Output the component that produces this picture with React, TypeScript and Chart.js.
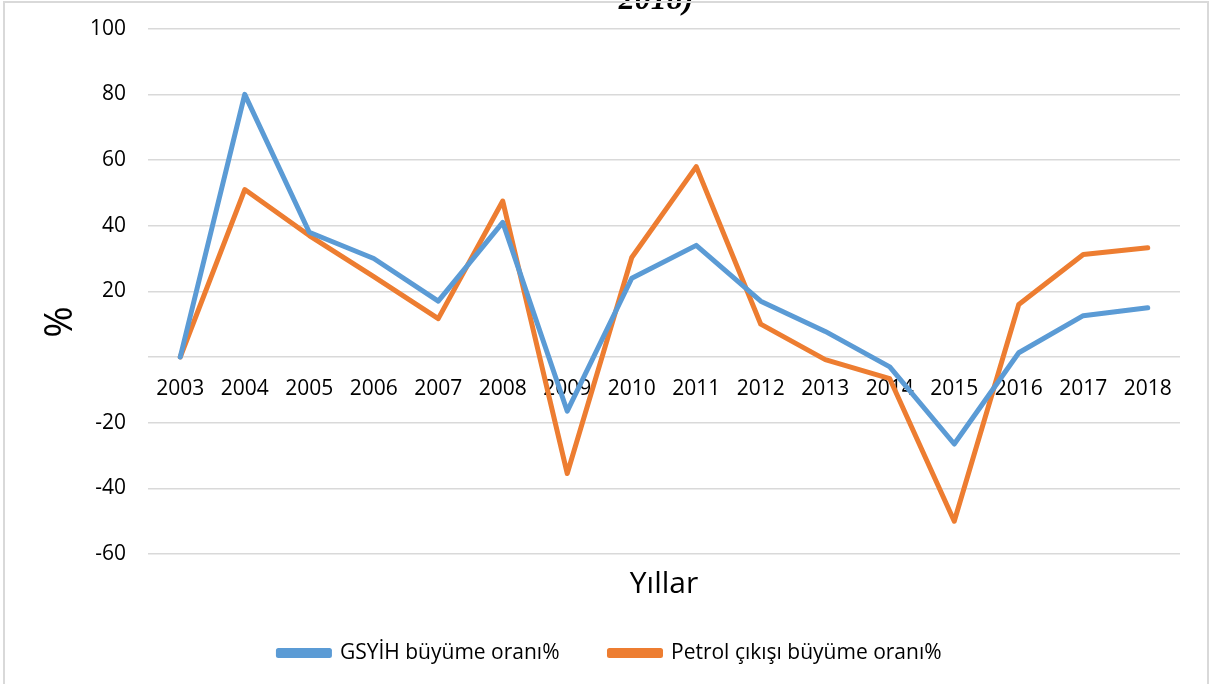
import React, { useEffect, useRef } from "react";
import { Chart, registerables } from "chart.js";

Chart.register(...registerables);

const years: string[] = [
  "2003", "2004", "2005", "2006", "2007", "2008", "2009", "2010",
  "2011", "2012", "2013", "2014", "2015", "2016", "2017", "2018",
];
const gdpGrowth: number[] = [0, 80, 38, 30, 17, 41, -16.5, 24, 34, 17, 7.8, -3, -26.5, 1.3, 12.6, 15];
const oilGrowth: number[] = [0, 51, 37, 24.5, 11.7, 47.5, -35.5, 30.3, 58, 10, -0.8, -6.6, -50, 16, 31.2, 33.3];
const seriesNames: string[] = ["GSYİH büyüme oranı%", "Petrol çıkışı büyüme oranı%"];
const yTicks: number[] = [-60, -40, -20, 0, 20, 40, 60, 80, 100];
const xAxisTitle = "Yıllar";
const yAxisTitle = "%";
const topTitleFragment = "2018)";

const FONT = "'Open Sans', 'Noto Sans', sans-serif";

const decorations = {
  id: "decorations",
  beforeDraw(chart: any) {
    const ctx = chart.ctx;
    ctx.save();
    ctx.fillStyle = "#ffffff";
    ctx.fillRect(0, 0, chart.width, chart.height);
    ctx.restore();
  },
  afterDraw(chart: any) {
    const ctx = chart.ctx;
    ctx.save();
    ctx.fillStyle = "#000";
    ctx.font = "italic bold 32px 'Liberation Serif', 'DejaVu Serif', serif";
    ctx.textAlign = "center";
    ctx.textBaseline = "alphabetic";
    ctx.fillText(topTitleFragment, 656, 9);
    ctx.translate(61, 322);
    ctx.rotate(-Math.PI / 2);
    ctx.font = "38px " + FONT;
    ctx.textAlign = "center";
    ctx.textBaseline = "middle";
    ctx.fillText(yAxisTitle, 0, 0);
    ctx.restore();
    ctx.save();
    ctx.strokeStyle = "#d9d9d9";
    ctx.lineWidth = 2;
    ctx.strokeRect(4, 2, 1204, 800);
    ctx.restore();
  },
};

export default function App() {
  const canvasRef = useRef<HTMLCanvasElement | null>(null);

  useEffect(() => {
    const canvas = canvasRef.current;
    if (!canvas) return;
    const chart = new Chart(canvas, {
      type: "line",
      data: {
        labels: years,
        datasets: [
          {
            label: seriesNames[0],
            data: gdpGrowth,
            borderColor: "#5B9BD5",
            backgroundColor: "#5B9BD5",
            borderWidth: 5,
            pointRadius: 0,
            tension: 0,
            borderJoinStyle: "round",
            borderCapStyle: "round",
            xAxisID: "x",
          },
          {
            label: seriesNames[1],
            data: oilGrowth,
            borderColor: "#ED7D31",
            backgroundColor: "#ED7D31",
            borderWidth: 5,
            pointRadius: 0,
            tension: 0,
            borderJoinStyle: "round",
            borderCapStyle: "round",
            xAxisID: "x",
          },
        ],
      },
      options: {
        responsive: false,
        animation: false,
        layout: { padding: { left: 40, right: 32, top: 28.7, bottom: 10.5 } },
        plugins: {
          title: { display: false },
          tooltip: { enabled: false },
          legend: {
            position: "bottom",
            labels: {
              font: { family: FONT, size: 21 },
              color: "#000",
              boxWidth: 51,
              boxHeight: 5,
              padding: 50,
            },
          },
        },
        scales: {
          x: {
            type: "category",
            position: { y: 0 } as any,
            offset: true,
            grid: { display: false, drawTicks: false },
            border: { display: false },
            ticks: {
              font: { family: FONT, size: 21 },
              color: "#000",
              padding: 19.5,
              maxRotation: 0,
              autoSkip: false,
            },
          },
          xt: {
            type: "category",
            position: "bottom",
            offset: true,
            grid: { display: false, drawTicks: false },
            border: { display: false },
            ticks: { display: false },
            title: {
              display: true,
              text: xAxisTitle,
              color: "#000",
              font: { family: FONT, size: 30, lineHeight: 0.4 },
              padding: { top: 24, bottom: 2.5 },
            },
          },
          y: {
            min: yTicks[0],
            max: yTicks[yTicks.length - 1],
            afterFit(scale: any) {
              scale.width = 108;
            },
            afterBuildTicks(scale: any) {
              scale.ticks = yTicks.map((v) => ({ value: v }));
            },
            grid: {
              color: "#d9d9d9",
              lineWidth: 1.5,
              drawTicks: true,
              tickLength: 22,
              tickColor: "rgba(0,0,0,0)",
            },
            border: { display: false },
            ticks: {
              font: { family: FONT, size: 21 },
              color: "#000",
              padding: 0,
              callback: (v: any) => (Number(v) === 0 ? "" : String(v)),
            },
          },
        },
      },
      plugins: [decorations],
    });
    return () => chart.destroy();
  }, []);

  return (
    <div style={{ position: "absolute", left: 0, top: 0, width: 1212, height: 684, background: "#fff" }}>
      <canvas ref={canvasRef} width={1212} height={684} style={{ display: "block", width: 1212, height: 684 }} />
    </div>
  );
}
